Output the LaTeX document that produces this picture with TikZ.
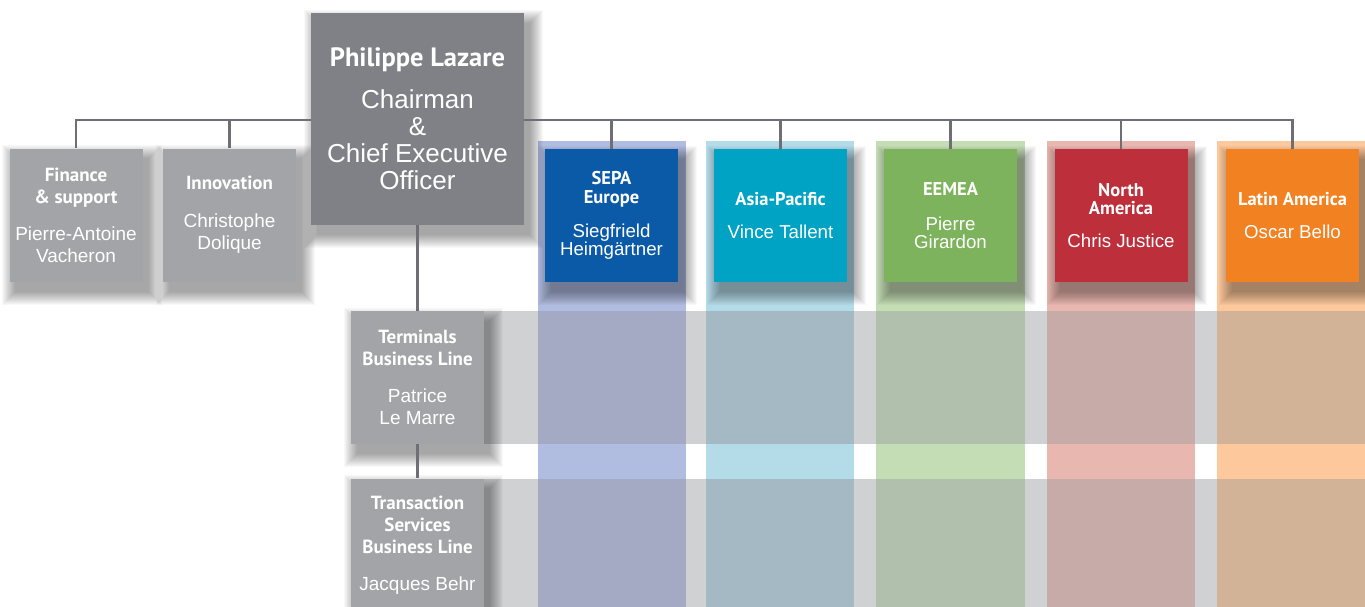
\documentclass[tikz,border=0pt]{standalone}
\usepackage{fontspec}
\setmainfont{Liberation Sans}
\newfontfamily\ttlfam{PT Sans}
\definecolor{ceogray}{HTML}{808186}
\definecolor{boxgray}{HTML}{A3A4A8}
\definecolor{linegray}{HTML}{6E6F74}
\definecolor{bandgray}{HTML}{D0D1D3}
\definecolor{cSEPA}{HTML}{0A5AA8}
\definecolor{cASIA}{HTML}{00A3C4}
\definecolor{cEEMEA}{HTML}{7DB35C}
\definecolor{cNA}{HTML}{BD2F3B}
\definecolor{cLA}{HTML}{F28121}
\definecolor{lSEPA}{HTML}{B0BCE0}
\definecolor{lASIA}{HTML}{B4DBE8}
\definecolor{lEEMEA}{HTML}{C5DDB5}
\definecolor{lNA}{HTML}{E8B7AF}
\definecolor{lLA}{HTML}{FCC89C}
\definecolor{bSEPA}{HTML}{A4A9C4}
\definecolor{bASIA}{HTML}{A4B9C4}
\definecolor{bEEMEA}{HTML}{B0C0AD}
\definecolor{bNA}{HTML}{C7ABA8}
\definecolor{bLA}{HTML}{D2B398}
\newcommand{\ttlL}{\ttlfam\bfseries\fontsize{19}{22}\selectfont}
\newcommand{\nmL}{\rmfamily\mdseries\fontsize{19}{22}\selectfont}
\newcommand{\ttlR}{\ttlfam\bfseries\fontsize{18.5}{18.5}\selectfont}
\newcommand{\nmR}{\rmfamily\mdseries\fontsize{18.7}{18.5}\selectfont}
\newcommand{\softshadow}[1]{%
  \foreach \r in {0,1,...,13}{%
    \fill[black,opacity=0.028] ([shift={(6-\r,10+\r)}]#1.south west) rectangle ([shift={(6+\r,10-\r)}]#1.north east);
  }}
\pgfdeclarelayer{back}
\pgfdeclarelayer{shad}
\pgfsetlayers{back,shad,main}
\begin{document}
\begin{tikzpicture}[x=1pt,y=-1pt,
  orgbox/.style={rectangle, inner sep=0pt, text=white, align=center},
  leftbox/.style={orgbox, fill=boxgray, minimum width=133pt, minimum height=133pt,
    font=\fontsize{19}{22}\selectfont},
  regbox/.style={orgbox, minimum width=133pt, minimum height=133pt,
    font=\fontsize{18}{18.5}\selectfont},
  link/.style={draw=linegray, line width=2.6pt}]
\useasboundingbox (0,0) rectangle (1365,606);
\begin{pgfonlayer}{back}
\fill[white] (0,0) rectangle (1365,606);
% coloured columns
\foreach \a/\b/\c in {538/686/SEPA,706/854/ASIA,876/1025/EEMEA,1047/1195/NA,1217/1370/LA}{
  \fill[l\c] (\a,141) rectangle (\b,610);
}
% grey bands
\fill[bandgray] (351,311) rectangle (1370,444);
\fill[bandgray] (351,479) rectangle (1370,610);
\foreach \a/\b/\c in {538/686/SEPA,706/854/ASIA,876/1025/EEMEA,1047/1195/NA,1217/1370/LA}{
  \fill[b\c] (\a,311) rectangle (\b,444);
  \fill[b\c] (\a,479) rectangle (\b,610);
}
\end{pgfonlayer}
% boxes
\node[leftbox] (fin) at (76,215) {\ttlL Finance\\ \ttlL\& support\\[15pt] \nmL Pierre-Antoine\\ \nmL Vacheron};
\node[leftbox] (inno) at (229.5,215) {\ttlL Innovation\\[16pt] \nmL Christophe\\ \nmL Dolique};
\node[leftbox] (term) at (417.5,377.5) {\ttlL Terminals\\ \ttlL Business Line\\[15pt] \nmL Patrice\\ \nmL Le Marre};
\node[leftbox] (trans) at (417.5,545) {\ttlL Transaction\\ \ttlL Services\\ \ttlL Business Line\\[15pt] \nmL Jacques Behr};
\node[regbox, fill=cSEPA] (sepa) at (611.5,215.5) {\ttlR SEPA\\ \ttlR Europe\\[15.5pt] \nmR Siegfrield\\ \nmR Heimgärtner};
\node[regbox, fill=cASIA] (asia) at (780.5,215.5) {\ttlR Asia-Pacific\\[14.5pt] \nmR Vince Tallent};
\node[regbox, fill=cEEMEA] (eemea) at (950.5,215.5) {\ttlR EEMEA\\[16.5pt] \nmR Pierre\\ \nmR Girardon};
\node[regbox, fill=cNA] (na) at (1121,215.5) {\ttlR North\\ \ttlR America\\[14.5pt] \nmR Chris Justice};
\node[regbox, fill=cLA] (la) at (1292.5,215.5) {\ttlR Latin America\\[14.5pt] \nmR Oscar Bello};
% connectors
\draw[link] (fin.north) |- (311,120);
\draw[link] (inno.north) -- (inno.north |- 0,120);
\draw[link] (524,120) -| (la.north);
\foreach \n in {sepa,asia,eemea,na}{
  \draw[link] (\n.north) -- (\n.north |- 0,120);
}
\draw[link] (417.5,225) -- (term.north);
\draw[link] (term.south) -- (trans.north);
\node[orgbox, fill=ceogray, minimum width=213pt, minimum height=212pt,
  font=\fontsize{26}{27}\selectfont] (ceo) at (417.5,119)
  {\ttlfam\bfseries\fontsize{26.5}{27}\selectfont Philippe Lazare\\[15pt]
   \rmfamily\mdseries Chairman\\ \rmfamily\mdseries\&\\ \rmfamily\mdseries Chief Executive\\ \rmfamily\mdseries Officer};
\begin{pgfonlayer}{shad}
\foreach \n in {fin,inno,term,trans,sepa,asia,eemea,na,la,ceo}{\softshadow{\n}}
\end{pgfonlayer}
\end{tikzpicture}
\end{document}
